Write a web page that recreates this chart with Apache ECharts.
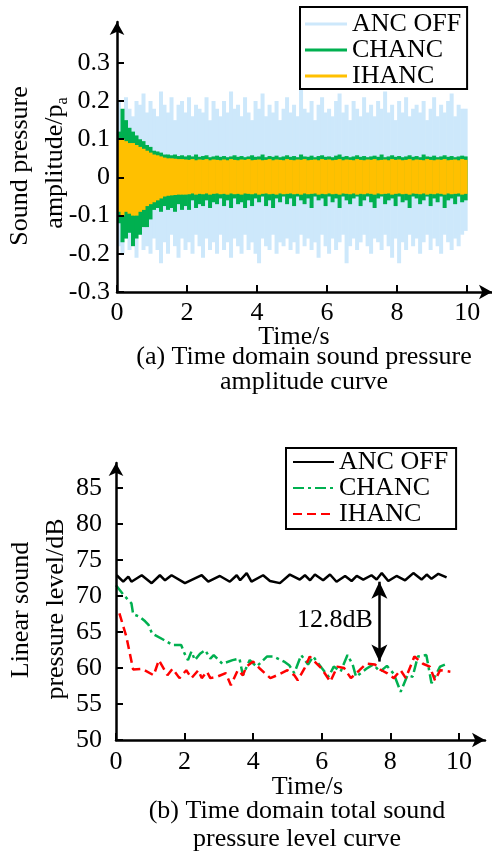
<!DOCTYPE html>
<html>
<head>
<meta charset="utf-8">
<script src="https://cdn.jsdelivr.net/npm/echarts@6.0.0/dist/echarts.min.js"></script>
<style>
html,body{margin:0;padding:0;background:#fff;}
#top{width:492px;height:430px;}
#bot{width:492px;height:431px;}
</style>
</head>
<body>
<div id="top"></div>
<div id="bot"></div>
<script>
// ---------- (a) time-domain amplitude: envelope samples every 0.1 s (upper / lower swing) ----------
const sampleStep = 0.1;
const ampOffUpper = [0.20,0.17,0.21,0.18,0.16,0.20,0.19,0.22,0.17,0.20,
  0.18,0.16,0.225,0.19,0.17,0.21,0.15,0.19,0.20,0.17,
  0.21,0.16,0.19,0.18,0.17,0.21,0.15,0.20,0.18,0.16,
  0.20,0.17,0.225,0.18,0.19,0.16,0.21,0.17,0.15,0.20,
  0.18,0.22,0.16,0.19,0.17,0.20,0.15,0.18,0.21,0.17,
  0.19,0.16,0.23,0.18,0.17,0.20,0.15,0.19,0.21,0.17,
  0.18,0.16,0.20,0.22,0.17,0.19,0.15,0.20,0.18,0.16,
  0.21,0.17,0.19,0.16,0.20,0.18,0.225,0.17,0.19,0.15,
  0.20,0.17,0.21,0.16,0.18,0.19,0.17,0.20,0.15,0.18,
  0.21,0.16,0.19,0.17,0.20,0.22,0.16,0.19,0.18,0.18];
const ampOffLower = [-0.18,-0.20,-0.16,-0.19,-0.17,-0.21,-0.15,-0.19,-0.18,-0.20,
  -0.16,-0.19,-0.225,-0.17,-0.20,-0.15,-0.18,-0.21,-0.16,-0.19,
  -0.17,-0.20,-0.15,-0.18,-0.21,-0.16,-0.19,-0.17,-0.20,-0.15,
  -0.19,-0.17,-0.21,-0.16,-0.18,-0.20,-0.15,-0.19,-0.17,-0.20,
  -0.225,-0.16,-0.18,-0.19,-0.15,-0.20,-0.17,-0.18,-0.16,-0.19,
  -0.17,-0.20,-0.15,-0.18,-0.16,-0.19,-0.17,-0.21,-0.15,-0.18,
  -0.20,-0.16,-0.19,-0.17,-0.15,-0.225,-0.18,-0.16,-0.19,-0.17,
  -0.15,-0.18,-0.20,-0.16,-0.17,-0.19,-0.15,-0.18,-0.21,-0.16,
  -0.225,-0.17,-0.19,-0.15,-0.18,-0.16,-0.20,-0.17,-0.15,-0.19,
  -0.16,-0.18,-0.20,-0.15,-0.17,-0.19,-0.16,-0.18,-0.15,-0.14];
const ampChUpper = [0.12,0.18,0.15,0.13,0.12,0.11,0.10,0.095,0.085,0.08,
  0.07,0.068,0.065,0.06,0.06,0.058,0.06,0.056,0.058,0.055,
  0.058,0.055,0.06,0.054,0.056,0.058,0.053,0.055,0.057,0.054,
  0.056,0.053,0.055,0.058,0.054,0.056,0.053,0.055,0.058,0.054,
  0.055,0.06,0.053,0.056,0.054,0.057,0.053,0.055,0.058,0.054,
  0.056,0.053,0.06,0.055,0.054,0.057,0.053,0.056,0.058,0.054,
  0.055,0.053,0.057,0.06,0.054,0.056,0.053,0.055,0.058,0.054,
  0.056,0.053,0.055,0.057,0.054,0.06,0.053,0.055,0.058,0.054,
  0.056,0.053,0.055,0.058,0.054,0.056,0.053,0.06,0.055,0.054,
  0.057,0.053,0.055,0.058,0.054,0.056,0.053,0.055,0.057,0.055];
const ampChLower = [-0.12,-0.17,-0.16,-0.145,-0.18,-0.16,-0.15,-0.13,-0.13,-0.11,
  -0.085,-0.08,-0.09,-0.075,-0.085,-0.08,-0.09,-0.07,-0.085,-0.075,
  -0.085,-0.06,-0.08,-0.07,-0.075,-0.06,-0.08,-0.065,-0.07,-0.055,
  -0.075,-0.06,-0.08,-0.055,-0.07,-0.065,-0.08,-0.06,-0.075,-0.055,
  -0.065,-0.05,-0.075,-0.06,-0.08,-0.055,-0.065,-0.05,-0.07,-0.055,
  -0.075,-0.05,-0.06,-0.07,-0.055,-0.08,-0.05,-0.06,-0.055,-0.075,
  -0.05,-0.065,-0.055,-0.08,-0.05,-0.06,-0.07,-0.055,-0.05,-0.075,
  -0.06,-0.05,-0.065,-0.08,-0.055,-0.05,-0.07,-0.06,-0.055,-0.075,
  -0.05,-0.065,-0.06,-0.08,-0.05,-0.055,-0.07,-0.06,-0.05,-0.075,
  -0.055,-0.065,-0.05,-0.08,-0.06,-0.055,-0.07,-0.05,-0.065,-0.06];
const ampIhUpper = [0.10,0.10,0.095,0.09,0.09,0.085,0.08,0.075,0.07,0.065,
  0.06,0.058,0.055,0.052,0.05,0.05,0.049,0.048,0.048,0.047,
  0.046,0.048,0.045,0.047,0.046,0.048,0.045,0.047,0.046,0.045,
  0.047,0.045,0.048,0.046,0.045,0.047,0.046,0.048,0.045,0.046,
  0.047,0.045,0.046,0.048,0.045,0.047,0.046,0.045,0.048,0.046,
  0.045,0.047,0.046,0.048,0.045,0.046,0.047,0.045,0.048,0.046,
  0.047,0.045,0.046,0.048,0.045,0.047,0.046,0.045,0.048,0.046,
  0.045,0.047,0.046,0.048,0.045,0.046,0.047,0.045,0.048,0.046,
  0.047,0.045,0.046,0.048,0.045,0.047,0.046,0.045,0.048,0.046,
  0.045,0.047,0.046,0.048,0.045,0.046,0.047,0.045,0.048,0.046];
const ampIhLower = [-0.09,-0.10,-0.09,-0.095,-0.10,-0.10,-0.09,-0.085,-0.075,-0.07,
  -0.065,-0.06,-0.055,-0.05,-0.048,-0.047,-0.046,-0.045,-0.045,-0.045,
  -0.044,-0.042,-0.045,-0.043,-0.044,-0.042,-0.045,-0.043,-0.042,-0.044,
  -0.043,-0.045,-0.042,-0.044,-0.043,-0.045,-0.042,-0.043,-0.044,-0.042,
  -0.045,-0.043,-0.042,-0.044,-0.043,-0.045,-0.042,-0.044,-0.043,-0.042,
  -0.044,-0.043,-0.045,-0.042,-0.044,-0.043,-0.042,-0.045,-0.043,-0.044,
  -0.042,-0.044,-0.043,-0.045,-0.042,-0.043,-0.044,-0.042,-0.045,-0.043,
  -0.044,-0.042,-0.043,-0.045,-0.042,-0.044,-0.043,-0.042,-0.045,-0.043,
  -0.042,-0.044,-0.043,-0.045,-0.042,-0.043,-0.044,-0.042,-0.045,-0.043,
  -0.044,-0.042,-0.043,-0.045,-0.042,-0.044,-0.043,-0.042,-0.045,-0.043];

// ---------- (b) total sound pressure level ----------
const splOffTime  = [0.02,0.21,0.36,0.45,0.75,1.04,1.28,1.43,1.62,2.01,2.50,2.69,3.03,3.32,3.52,3.62,3.81,3.95,4.29,4.49,4.78,5.07,5.36,5.51,5.66,5.80,6.04,6.24,6.43,6.68,6.87,7.02,7.21,7.45,7.60,7.75,7.94,8.18,8.43,8.67,8.91,9.06,9.20,9.40,9.64];
const splOffLevel = [72.9,72.0,72.7,72.0,72.9,71.8,72.9,72.2,72.9,71.8,72.9,72.0,72.8,72.0,72.9,72.2,73.2,72.0,72.9,72.1,71.8,73.0,72.3,72.9,72.2,73.0,72.2,73.0,72.0,72.8,72.1,72.8,72.3,72.9,72.3,73.2,72.1,72.8,72.2,73.2,72.3,73.0,72.4,73.1,72.6];
const splChTime  = [0.0,0.25,0.45,0.5,0.7,0.85,0.95,1.05,1.4,1.65,1.9,2.0,2.1,2.2,2.3,2.45,2.6,2.75,2.85,3.1,3.4,3.6,3.7,3.9,4.1,4.4,4.6,4.9,5.05,5.2,5.4,5.6,5.75,6.0,6.2,6.35,6.55,6.75,6.9,7.0,7.3,7.5,7.7,7.9,8.1,8.3,8.5,8.65,8.8,9.05,9.2,9.45,9.65];
const splChLevel = [71.5,70.0,69.0,67.5,67.1,66.5,66.0,64.8,63.9,63.2,63.2,62.0,61.1,62.3,61.1,62.0,62.5,61.3,61.8,60.6,61.1,61.3,59.0,61.1,60.2,61.6,61.6,60.9,60.4,59.3,61.8,60.5,61.6,60.0,58.8,60.2,59.5,61.8,60.5,58.8,59.9,60.5,59.5,60.3,59.2,56.7,59.0,58.8,61.6,61.8,57.9,60.2,60.6];
const splIhTime  = [0.1,0.3,0.5,0.75,1.1,1.25,1.5,1.65,1.85,2.05,2.2,2.4,2.5,2.65,2.75,2.95,3.2,3.35,3.55,3.7,3.8,4.0,4.2,4.5,4.7,5.0,5.2,5.3,5.5,5.65,6.0,6.25,6.45,6.65,6.85,7.1,7.3,7.55,7.7,7.9,8.1,8.3,8.45,8.7,8.95,9.15,9.3,9.45,9.75];
const splIhLevel = [67.6,64.4,59.8,59.9,59.0,61.1,59.0,59.9,58.6,59.7,58.6,59.7,58.6,59.5,58.6,58.8,59.3,57.6,59.7,59.0,60.2,60.9,59.9,58.6,59.0,59.7,59.0,58.3,60.0,61.6,59.9,58.1,60.2,60.0,58.6,59.7,60.6,60.5,59.8,59.3,58.6,59.7,58.6,61.6,60.6,60.2,58.3,59.7,59.5];

// tick labels
const timeTicks = [0,2,4,6,8,10];
const ampTicks = [-0.3,-0.2,-0.1,0,0.1,0.2,0.3];
const splTicks = [50,55,60,65,70,75,80,85];

const F = "'Liberation Serif','Times New Roman',serif";

function envelope(upper, lower){
  return upper.map((u,k)=>[k*sampleStep, u, lower[k]]);
}
function zip(t, v){ return t.map((x,i)=>[x, v[i]]); }

function swingSeries(name, color, upper, lower){
  return {
    name:name, type:'custom', clip:true, z:2,
    itemStyle:{color:color},
    encode:{x:0, y:[1,2]},
    data:envelope(upper, lower),
    renderItem:function(params, api){
      const t = api.value(0);
      const a = api.coord([t, api.value(1)]);
      const b = api.coord([t + sampleStep, api.value(2)]);
      return {type:'rect', shape:{x:a[0], y:a[1], width:b[0]-a[0]+0.5, height:b[1]-a[1]}, style:{fill:color}};
    }
  };
}

function axisCommon(ticks, margin){
  return {
    z:10,
    axisLine:{show:true, onZero:false, symbol:['none','arrow'], symbolSize:[11,13], lineStyle:{color:'#000', width:2.5}},
    axisTick:{show:true, inside:true, length:7, customValues:ticks, lineStyle:{color:'#000', width:2}},
    axisLabel:{customValues:ticks, color:'#000', fontSize:26, fontFamily:F, margin:margin},
    splitLine:{show:false}
  };
}

const barIcon = 'path://M0 0H42V3H0Z';

const topChart = echarts.init(document.getElementById('top'));
topChart.setOption({
  animation:false,
  grid:{left:117, right:0, top:22, bottom:138},
  xAxis:Object.assign({type:'value', min:0, max:10.71}, axisCommon(timeTicks, 8)),
  yAxis:Object.assign({type:'value', min:-0.3, max:0.407}, axisCommon(ampTicks, 7)),
  legend:{
    orient:'vertical', left:300, top:7, padding:[4,6,0,5], itemGap:0,
    itemWidth:42, itemHeight:14, borderColor:'#000', borderWidth:2,
    selectedMode:false,
    textStyle:{fontSize:26, fontFamily:F, color:'#000', lineHeight:24},
    data:[{name:'ANC OFF', icon:barIcon},{name:'CHANC', icon:barIcon},{name:'IHANC', icon:barIcon}]
  },
  series:[
    swingSeries('ANC OFF', '#cde8fb', ampOffUpper, ampOffLower),
    swingSeries('CHANC', '#00b050', ampChUpper, ampChLower),
    swingSeries('IHANC', '#ffc000', ampIhUpper, ampIhLower)
  ],
  graphic:[
    {type:'text', x:20.5, y:166, rotation:Math.PI/2, style:{text:'Sound pressure', fontSize:26, fontFamily:F, fill:'#000', align:'center', verticalAlign:'middle'}},
    {type:'text', x:55.5, y:163, rotation:Math.PI/2, style:{text:'{m|amplitude/p}{s|a}', align:'center', verticalAlign:'middle', fill:'#000',
      rich:{m:{fontSize:26, fontFamily:F, lineHeight:30, fill:'#000'}, s:{fontSize:16, fontFamily:F, verticalAlign:'bottom', lineHeight:16, fill:'#000'}}}},
    {type:'text', x:294, y:337.5, style:{text:'Time/s', fontSize:26, fontFamily:F, fill:'#000', align:'center', verticalAlign:'middle'}},
    {type:'text', x:304, y:357.5, style:{text:'(a) Time domain sound pressure', fontSize:26, fontFamily:F, fill:'#000', align:'center', verticalAlign:'middle'}},
    {type:'text', x:304, y:382, style:{text:'amplitude curve', fontSize:26, fontFamily:F, fill:'#000', align:'center', verticalAlign:'middle'}}
  ]
});

const botChart = echarts.init(document.getElementById('bot'));
botChart.setOption({
  animation:false,
  grid:{left:116, right:7, top:33, bottom:121},
  xAxis:Object.assign({type:'value', min:0, max:10.76}, axisCommon(timeTicks, 9)),
  yAxis:Object.assign({type:'value', min:50, max:88.5}, axisCommon(splTicks, 14)),
  legend:{
    orient:'vertical', left:286, top:18, padding:[1,8,2,6], itemGap:0,
    itemWidth:41, itemHeight:14, borderColor:'#000', borderWidth:2,
    selectedMode:false, itemStyle:{opacity:0},
    textStyle:{fontSize:26, fontFamily:F, color:'#000', lineHeight:25},
    data:['ANC OFF','CHANC','IHANC']
  },
  series:[
    {name:'ANC OFF', type:'line', symbol:'none', data:zip(splOffTime, splOffLevel), lineStyle:{color:'#000', width:2.5}, itemStyle:{color:'#000'},
      markLine:{silent:true, symbol:['arrow','arrow'], symbolSize:[12,17], label:{show:false},
        lineStyle:{color:'#000', width:2.5, type:'solid'},
        data:[[{coord:[7.68,72.0]},{coord:[7.68,60.9]}]]}},
    {name:'CHANC', type:'line', symbol:'none', data:zip(splChTime, splChLevel), lineStyle:{color:'#00b050', width:2.5, type:[11,4,3,4]}, itemStyle:{color:'#00b050'}},
    {name:'IHANC', type:'line', symbol:'none', data:zip(splIhTime, splIhLevel), lineStyle:{color:'#ff0000', width:2.5, type:[9,5]}, itemStyle:{color:'#ff0000'}}
  ],
  graphic:[
    {type:'text', x:21, y:180, rotation:Math.PI/2, style:{text:'Linear sound', fontSize:26, fontFamily:F, fill:'#000', align:'center', verticalAlign:'middle'}},
    {type:'text', x:56, y:179, rotation:Math.PI/2, style:{text:'pressure level/dB', fontSize:26, fontFamily:F, fill:'#000', align:'center', verticalAlign:'middle'}},
    {type:'text', x:335, y:190, style:{text:'12.8dB', fontSize:26, fontFamily:F, fill:'#000', align:'center', verticalAlign:'middle'}},
    {type:'text', x:307.5, y:357, style:{text:'Time/s', fontSize:26, fontFamily:F, fill:'#000', align:'center', verticalAlign:'middle'}},
    {type:'text', x:297, y:381.5, style:{text:'(b) Time domain total sound', fontSize:26, fontFamily:F, fill:'#000', align:'center', verticalAlign:'middle'}},
    {type:'text', x:297, y:409, style:{text:'pressure level curve', fontSize:26, fontFamily:F, fill:'#000', align:'center', verticalAlign:'middle'}}
  ]
});
</script>
</body>
</html>
